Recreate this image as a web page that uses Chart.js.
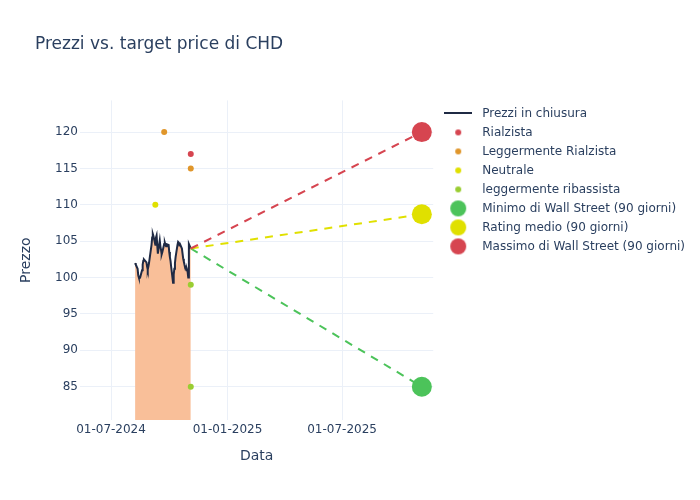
<!DOCTYPE html>
<html>
<head>
    <meta charset="UTF-8">
    <title>Prezzi vs. target price di CHD</title>
    <script src="https://cdn.jsdelivr.net/npm/chart.js"></script>
    <style>
        body { margin: 0; background: #fff; }
        .chart-container { width: 700px; height: 500px; position: relative; }
    </style>
</head>
<body>
    <div class="chart-container">
        <canvas id="targetChart"></canvas>
    </div>

    <script>
        // closing prices (trading days)
        var priceDates = [
            '2024-08-08', '2024-08-09', '2024-08-12', '2024-08-13', '2024-08-14', '2024-08-15', '2024-08-16',
            '2024-08-19', '2024-08-20', '2024-08-21', '2024-08-22', '2024-08-23', '2024-08-26', '2024-08-27',
            '2024-08-28', '2024-08-29', '2024-08-30', '2024-09-03', '2024-09-04', '2024-09-05', '2024-09-06',
            '2024-09-09', '2024-09-10', '2024-09-11', '2024-09-12', '2024-09-13', '2024-09-16', '2024-09-17',
            '2024-09-18', '2024-09-19', '2024-09-20', '2024-09-23', '2024-09-24', '2024-09-25', '2024-09-26',
            '2024-09-27', '2024-09-30', '2024-10-01', '2024-10-02', '2024-10-03', '2024-10-04', '2024-10-07',
            '2024-10-08', '2024-10-09', '2024-10-10', '2024-10-11', '2024-10-14', '2024-10-15', '2024-10-16',
            '2024-10-17', '2024-10-18', '2024-10-21', '2024-10-22', '2024-10-23', '2024-10-24', '2024-10-25',
            '2024-10-28', '2024-10-29', '2024-10-30', '2024-10-31', '2024-11-01', '2024-11-04'
        ];
        var priceValues = [
            102.0, 101.8, 101.2, 100.3, 100.0, 99.9, 100.0,
            101.0, 101.8, 102.3, 102.5, 102.4, 102.1, 101.5,
            101.1, 101.5, 102.0, 104.5, 105.5, 106.0, 105.7,
            104.5, 105.5, 105.8, 104.5, 103.3, 105.1, 104.3,
            103.8, 103.2, 103.5, 104.6, 104.8, 104.5, 104.3,
            104.6, 104.5, 103.5, 102.8, 102.3, 101.5, 99.3,
            100.4, 101.2, 102.0, 102.8, 104.5, 104.9, 104.8,
            104.5, 104.6, 104.0, 103.3, 102.6, 102.2, 101.8,
            101.0, 101.1, 100.8, 100.0, 104.6, 104.0
        ];

        // analyst ratings
        var rialzistaDates = ['2024-11-04'];
        var rialzistaValues = [117];
        var leggRialzistaDates = ['2024-09-23', '2024-11-04'];
        var leggRialzistaValues = [120, 115];
        var neutraleDates = ['2024-09-09'];
        var neutraleValues = [110];
        var leggRibassistaDates = ['2024-11-04', '2024-11-04'];
        var leggRibassistaValues = [99, 85];

        // Wall Street targets (90 days)
        var targetDate = '2025-11-04';
        var targetMin = 85;
        var targetAvg = 108.7;
        var targetMax = 120;

        var xTickDates = ['2024-07-01', '2025-01-01', '2025-07-01'];
        var yTickValues = [85, 90, 95, 100, 105, 110, 115, 120];

        var textColor = '#2a3f5f';
        var gridColor = '#EBF0F8';
        var fontFamily = '"DejaVu Sans", sans-serif';

        var red = '#D64550';
        var orange = '#E0962B';
        var yellow = '#E0E000';
        var lightGreen = '#9ACD32';
        var green = '#4CC35A';

        function t(s) { return Date.parse(s); }
        function pts(dates, values) {
            return dates.map(function (d, i) { return { x: t(d), y: values[i] }; });
        }
        function pad2(n) { return (n < 10 ? '0' : '') + n; }

        var lastDate = priceDates[priceDates.length - 1];
        var lastPrice = priceValues[priceValues.length - 1];

        // legend symbols
        function dotIcon(r, color) {
            var c = document.createElement('canvas');
            c.width = c.height = 2 * r + 2;
            var g = c.getContext('2d');
            g.fillStyle = color;
            g.beginPath();
            g.arc(r + 1, r + 1, r, 0, Math.PI * 2);
            g.fill();
            return c;
        }
        function lineIcon(color) {
            var c = document.createElement('canvas');
            c.width = 28; c.height = 2;
            var g = c.getContext('2d');
            g.fillStyle = color;
            g.fillRect(0, 0, 28, 2);
            return c;
        }
        var legendItems = [
            { text: 'Prezzi in chiusura', icon: lineIcon('#1f2a44') },
            { text: 'Rialzista', icon: dotIcon(3, red) },
            { text: 'Leggermente Rialzista', icon: dotIcon(3, orange) },
            { text: 'Neutrale', icon: dotIcon(3, yellow) },
            { text: 'leggermente ribassista', icon: dotIcon(3, lightGreen) },
            { text: 'Minimo di Wall Street (90 giorni)', icon: dotIcon(8, green) },
            { text: 'Rating medio (90 giorni)', icon: dotIcon(8, yellow) },
            { text: 'Massimo di Wall Street (90 giorni)', icon: dotIcon(8, red) }
        ];

        function dashed(color, target) {
            return {
                type: 'line', showLine: true, order: 4,
                data: pts([lastDate, targetDate], [lastPrice, target]),
                borderColor: color, borderWidth: 2, borderDash: [8, 7],
                pointRadius: 0, fill: false
            };
        }
        function dots(data, color, r, order) {
            return {
                type: 'scatter', data: data, order: order,
                backgroundColor: color, borderWidth: 0, pointRadius: r, pointHoverRadius: r
            };
        }

        var ctx = document.getElementById('targetChart').getContext('2d');
        var chart = new Chart(ctx, {
            type: 'scatter',
            data: {
                datasets: [
                    {
                        type: 'line', showLine: true, order: 5,
                        data: pts(priceDates, priceValues),
                        borderColor: '#1f2a44', borderWidth: 2,
                        backgroundColor: '#F9BF99',
                        fill: 'start', pointRadius: 0, tension: 0
                    },
                    dots(pts(rialzistaDates, rialzistaValues), red, 3, 2),
                    dots(pts(leggRialzistaDates, leggRialzistaValues), orange, 3, 2),
                    dots(pts(neutraleDates, neutraleValues), yellow, 3, 2),
                    dots(pts(leggRibassistaDates, leggRibassistaValues), lightGreen, 3, 2),
                    dots(pts([targetDate], [targetMin]), green, 10, 1),
                    dots(pts([targetDate], [targetAvg]), yellow, 10, 1),
                    dots(pts([targetDate], [targetMax]), red, 10, 1),
                    dashed(red, targetMax),
                    dashed(yellow, targetAvg),
                    dashed(green, targetMin)
                ]
            },
            options: {
                responsive: true,
                maintainAspectRatio: false,
                animation: false,
                layout: { padding: { left: 35, right: 5, top: 0, bottom: 0 } },
                plugins: {
                    title: {
                        display: true,
                        text: 'Prezzi vs. target price di CHD',
                        align: 'start',
                        color: textColor,
                        font: { family: fontFamily, size: 17, weight: 'normal' },
                        padding: { top: 34, bottom: 46 }
                    },
                    legend: {
                        position: 'right',
                        align: 'start',
                        fullSize: false,
                        maxWidth: 300,
                        labels: {
                            usePointStyle: true,
                            pointStyleWidth: 36,
                            padding: 7,
                            color: textColor,
                            font: { family: fontFamily, size: 12 },
                            generateLabels: function () {
                                return legendItems.map(function (it, i) {
                                    return {
                                        text: it.text, pointStyle: it.icon, fontColor: textColor,
                                        fillStyle: 'transparent', strokeStyle: 'transparent',
                                        lineWidth: 0, hidden: false, datasetIndex: i
                                    };
                                });
                            }
                        },
                        onClick: function () {}
                    },
                    tooltip: { enabled: false }
                },
                scales: {
                    x: {
                        type: 'linear',
                        min: t('2024-05-13'),
                        max: t('2025-11-22'),
                        afterBuildTicks: function (scale) {
                            scale.ticks = xTickDates.map(function (d) { return { value: t(d) }; });
                        },
                        afterFit: function (scale) { scale.height = 80; },
                        ticks: {
                            autoSkip: false, maxRotation: 0, padding: 3,
                            color: textColor,
                            font: { family: fontFamily, size: 12 },
                            callback: function (v) {
                                var d = new Date(v);
                                return pad2(d.getUTCDate()) + '-' + pad2(d.getUTCMonth() + 1) + '-' + d.getUTCFullYear();
                            }
                        },
                        grid: { color: gridColor, drawTicks: false },
                        border: { display: false },
                        title: {
                            display: true, text: 'Data', color: textColor,
                            font: { family: fontFamily, size: 14 },
                            padding: { top: 0, bottom: 35 }
                        }
                    },
                    y: {
                        min: 80.43,
                        max: 124.35,
                        afterBuildTicks: function (scale) {
                            scale.ticks = yTickValues.map(function (v) { return { value: v }; });
                        },
                        afterFit: function (scale) { scale.width = 45; },
                        ticks: {
                            padding: 2,
                            color: textColor,
                            font: { family: fontFamily, size: 12 }
                        },
                        grid: { color: gridColor, drawTicks: false },
                        border: { display: false },
                        title: {
                            display: true, text: 'Prezzo', color: textColor,
                            font: { family: fontFamily, size: 14 },
                            padding: { top: -17, bottom: 0 }
                        }
                    }
                }
            }
        });
    </script>
</body>
</html>
